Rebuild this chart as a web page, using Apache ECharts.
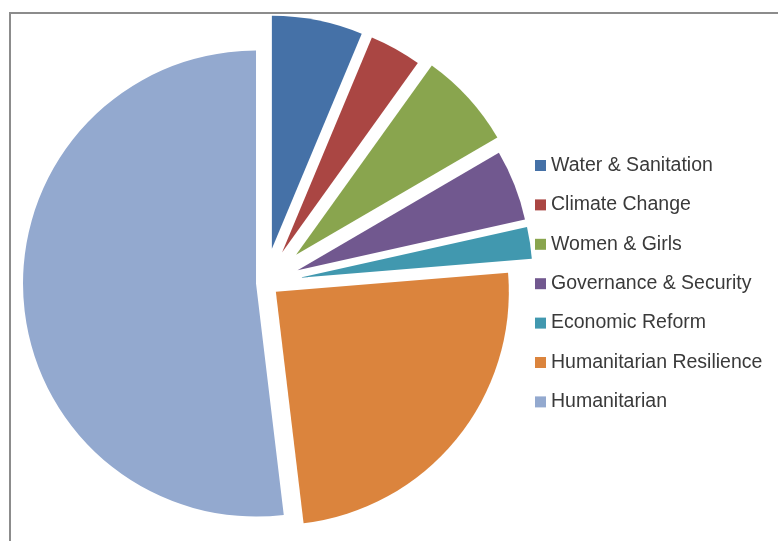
<!doctype html>
<html>
    <head>
        <meta charset="utf-8">
        <title>Funding by theme</title>
        <style>
            html, body { margin: 0; padding: 0; background: #fff; }
            #main { width: 778px; height: 541px; }
        </style>
    </head>
    <body>
        <div id="main"></div>
        <script src="https://cdn.jsdelivr.net/npm/echarts@6/dist/echarts.min.js"></script>
        <script>
            var categories = [
                'Water & Sanitation',
                'Climate Change',
                'Women & Girls',
                'Governance & Security',
                'Economic Reform',
                'Humanitarian Resilience',
                'Humanitarian'
            ];
            // share of total, in percent
            var shares = [6.3, 3.6, 6.7, 4.9, 2.2, 24.4, 51.9];
            var colors = ['#4571a7', '#aa4643', '#89a54e', '#71588f', '#4198af', '#db843d', '#93a9cf'];
            // slices are pulled out by different amounts
            var explodeGroups = [[0, 1, 3, 4], [2], [5], [6]];
            var explodeOffsets = [35, 42, 14, 9];

            var chart = echarts.init(document.getElementById('main'));

            var series = explodeGroups.map(function (group, g) {
                return {
                    type: 'pie',
                    center: [265, 283],
                    radius: 233,
                    startAngle: 90,
                    clockwise: true,
                    selectedMode: 'multiple',
                    selectedOffset: explodeOffsets[g],
                    avoidLabelOverlap: false,
                    label: { show: false },
                    labelLine: { show: false },
                    emphasis: { disabled: true },
                    itemStyle: { borderWidth: 0 },
                    data: categories.map(function (name, i) {
                        if (group.indexOf(i) >= 0) {
                            return {
                                name: name,
                                value: shares[i],
                                selected: true,
                                itemStyle: { color: colors[i] }
                            };
                        }
                        // keeps the angles of the other slices
                        return {
                            name: '',
                            value: shares[i],
                            itemStyle: { color: 'rgba(0,0,0,0)' }
                        };
                    })
                };
            });

            chart.setOption({
                animation: false,
                backgroundColor: '#fff',
                graphic: [{
                    type: 'rect',
                    shape: { x: 10, y: 13, width: 1000, height: 1000 },
                    style: { fill: 'none', stroke: '#8c8c8c', lineWidth: 2 }
                }],
                legend: {
                    data: categories,
                    orient: 'vertical',
                    left: 535,
                    top: 155.5,
                    padding: 0,
                    icon: 'rect',
                    itemWidth: 11,
                    itemHeight: 11,
                    itemGap: 19.4,
                    selectedMode: false,
                    textStyle: {
                        fontFamily: 'Liberation Sans',
                        fontSize: 19.5,
                        lineHeight: 20,
                        color: '#3a3a3a'
                    }
                },
                series: series
            });

            window.onresize = chart.resize;
        </script>
    </body>
</html>
